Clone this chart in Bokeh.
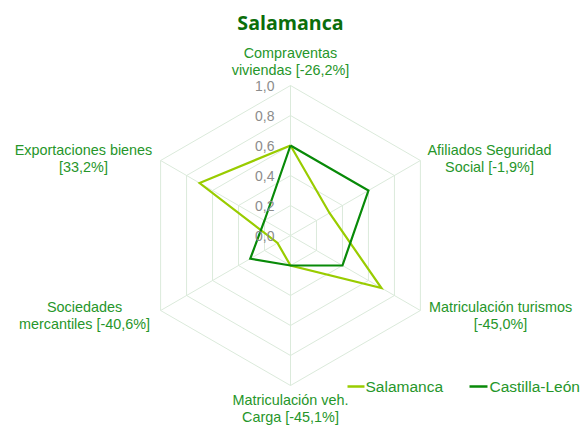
import numpy as np
from bokeh.plotting import figure
from bokeh.models import Range1d
from bokeh.core.properties import value
from bokeh.embed import file_html
from bokeh.resources import INLINE

title = "Salamanca"
categories = [
    "Compraventas\nviviendas [-26,2%]",
    "Afiliados Seguridad\nSocial [-1,9%]",
    "Matriculación turismos\n[-45,0%]",
    "Matriculación veh.\nCarga [-45,1%]",
    "Sociedades\nmercantiles [-40,6%]",
    "Exportaciones bienes\n[33,2%]",
]
salamanca = [0.60, 0.30, 0.70, 0.20, 0.10, 0.70]
castilla = [0.60, 0.60, 0.40, 0.20, 0.31, 0.20]
tick_values = [0.0, 0.2, 0.4, 0.6, 0.8, 1.0]
tick_labels = ["0,0", "0,2", "0,4", "0,6", "0,8", "1,0"]
series_names = ["Salamanca", "Castilla-León"]

COL_SAL = "#99cc00"
COL_CYL = "#088a08"
COL_TXT = "#26962a"
COL_GRID = "#dbeadb"
COL_TITLE = "#0b6e0b"

W, H = 584, 425
CX, CY = 290, 235          # centre in figure pixels (from top-left)
S = 150.0                  # pixels per unit

p = figure(width=W, height=H, output_backend="svg", toolbar_location=None,
           x_range=Range1d(-CX / S, (W - CX) / S),
           y_range=Range1d(-(H - CY) / S, CY / S),
           min_border=0, outline_line_color=None)
p.axis.visible = False
p.grid.visible = False
p.background_fill_color = "white"
p.border_fill_color = "white"

n = len(categories)
ang = np.pi / 2 - np.arange(n) * 2 * np.pi / n
ux, uy = np.cos(ang), np.sin(ang)

# grid rings
for r in tick_values[1:]:
    xs = list(r * ux) + [r * ux[0]]
    ys = list(r * uy) + [r * uy[0]]
    p.line(xs, ys, line_color=COL_GRID, line_width=1)
# spokes
p.segment(x0=[0] * n, y0=[0] * n, x1=list(ux), y1=list(uy),
          line_color=COL_GRID, line_width=1)

def closed(vals):
    v = np.array(vals)
    xs = list(v * ux) + [v[0] * ux[0]]
    ys = list(v * uy) + [v[0] * uy[0]]
    return xs, ys

xs, ys = closed(salamanca)
p.line(xs, ys, line_color=COL_SAL, line_width=2.2, line_join="miter")
xs, ys = closed(castilla)
p.line(xs, ys, line_color=COL_CYL, line_width=2.2, line_join="miter")

# tick labels
p.text(x=[-16 / S] * len(tick_values), y=tick_values, text=tick_labels,
       text_align="right", text_baseline="middle", text_color="#8c8c8c",
       text_font=value("Liberation Sans"), text_font_size="14px")

# category labels (pixel anchors relative to centre)
lab_dx = [0, 199, 210, 0, -206, -207]
lab_dy = [-174, -77, 80, 173, 80, -77]
p.text(x=[d / S for d in lab_dx], y=[-d / S for d in lab_dy], text=categories,
       text_align="center", text_baseline="middle", text_color=COL_TXT,
       text_font=value("Liberation Sans"), text_font_size="14.4px",
       text_line_height=1.09)

# title
p.text(x=[0], y=[213 / S], text=[title], text_align="center",
       text_baseline="middle", text_color=COL_TITLE,
       text_font=value("Open Sans"), text_font_style="bold",
       text_font_size="19.6px")

# legend
leg_y = -151 / S
leg_x0 = [57 / S, 179 / S]
leg_x1 = [74 / S, 197 / S]
p.segment(x0=leg_x0, y0=[leg_y] * 2, x1=leg_x1, y1=[leg_y] * 2,
          line_color=[COL_SAL, COL_CYL], line_width=2.5)
p.text(x=[75 / S, 199 / S], y=[leg_y] * 2, text=series_names,
       text_align="left", text_baseline="middle", text_color=COL_TXT,
       text_font=value("Liberation Sans"), text_font_size="15.5px")

open("out.html", "w").write(file_html(p, INLINE))
